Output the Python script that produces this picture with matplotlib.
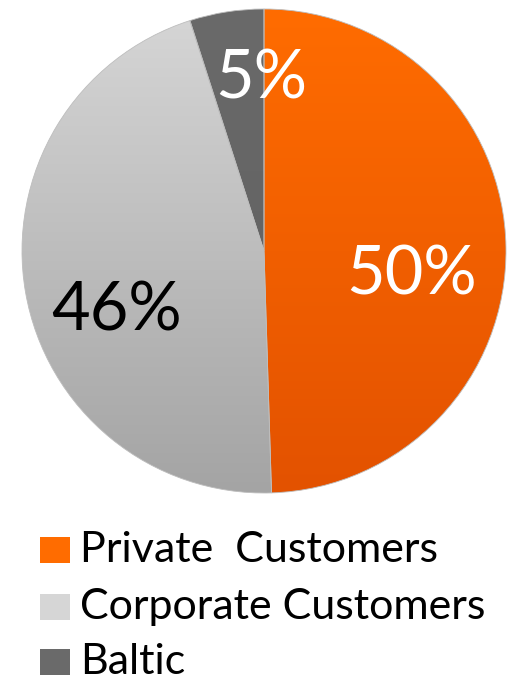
import numpy as np
import matplotlib
matplotlib.use("Agg")
import matplotlib.pyplot as plt
from matplotlib.colors import LinearSegmentedColormap
from matplotlib.patches import Rectangle

plt.rcParams['font.family'] = ['Lato', 'DejaVu Sans']

# Share of customers by segment
segments = ["Private  Customers", "Corporate Customers", "Baltic"]
shares = [50, 46, 5]
label_colors = ["white", "black", "white"]
# label anchor points in pie coordinates (radius = 1)
label_pos = [(0.61, -0.10), (-0.61, -0.25), (-0.01, 0.71)]

# top / bottom shades for each wedge's vertical gradient
shade_top = ["#ff6c00", "#d6d6d6", "#6a6a6a"]
shade_bottom = ["#e35200", "#a4a4a4", "#5e5e5e"]

W, H, DPI = 507, 683, 100
fig = plt.figure(figsize=(W / DPI, H / DPI), dpi=DPI)

cx, cy, r = 264, 251, 242  # pie centre and radius in pixels (from top-left)
ax = fig.add_axes([(cx - r) / W, (H - cy - r) / H, 2 * r / W, 2 * r / H])

wedges, _ = ax.pie(shares, startangle=90, counterclock=False, radius=1,
                   colors=shade_top,
                   wedgeprops=dict(edgecolor="#bdbdbd", linewidth=0.6))
ax.set_xlim(-1, 1)
ax.set_ylim(-1, 1)
ax.set_aspect("equal")
ax.axis("off")

# vertical gradient fill clipped to each wedge
grad = np.linspace(0, 1, 256).reshape(-1, 1)
for w, top, bot in zip(wedges, shade_top, shade_bottom):
    cmap = LinearSegmentedColormap.from_list("g", [top, bot])
    im = ax.imshow(grad, cmap=cmap, extent=(-1, 1, -1, 1), origin="upper",
                   aspect="auto", zorder=w.get_zorder() + 0.1)
    im.set_clip_path(w)
    w.set_facecolor("none")
    w.set_zorder(w.get_zorder() + 0.2)

for v, (x, y), c in zip(shares, label_pos, label_colors):
    ax.text(x, y, f"{v}%", color=c, fontsize=48, ha="center", va="center",
            zorder=10)

# legend
row_y = [550, 607, 662]
for seg, top, y in zip(segments, shade_top, row_y):
    fig.patches.append(Rectangle((40 / W, (H - y - 13) / H), 30 / W, 26 / H,
                                 transform=fig.transFigure,
                                 facecolor=top, edgecolor="none"))
    fig.text(80 / W, (H - y) / H, seg, fontsize=31, color="black",
             ha="left", va="center")

fig.savefig("out.png", dpi=DPI, facecolor="white")
